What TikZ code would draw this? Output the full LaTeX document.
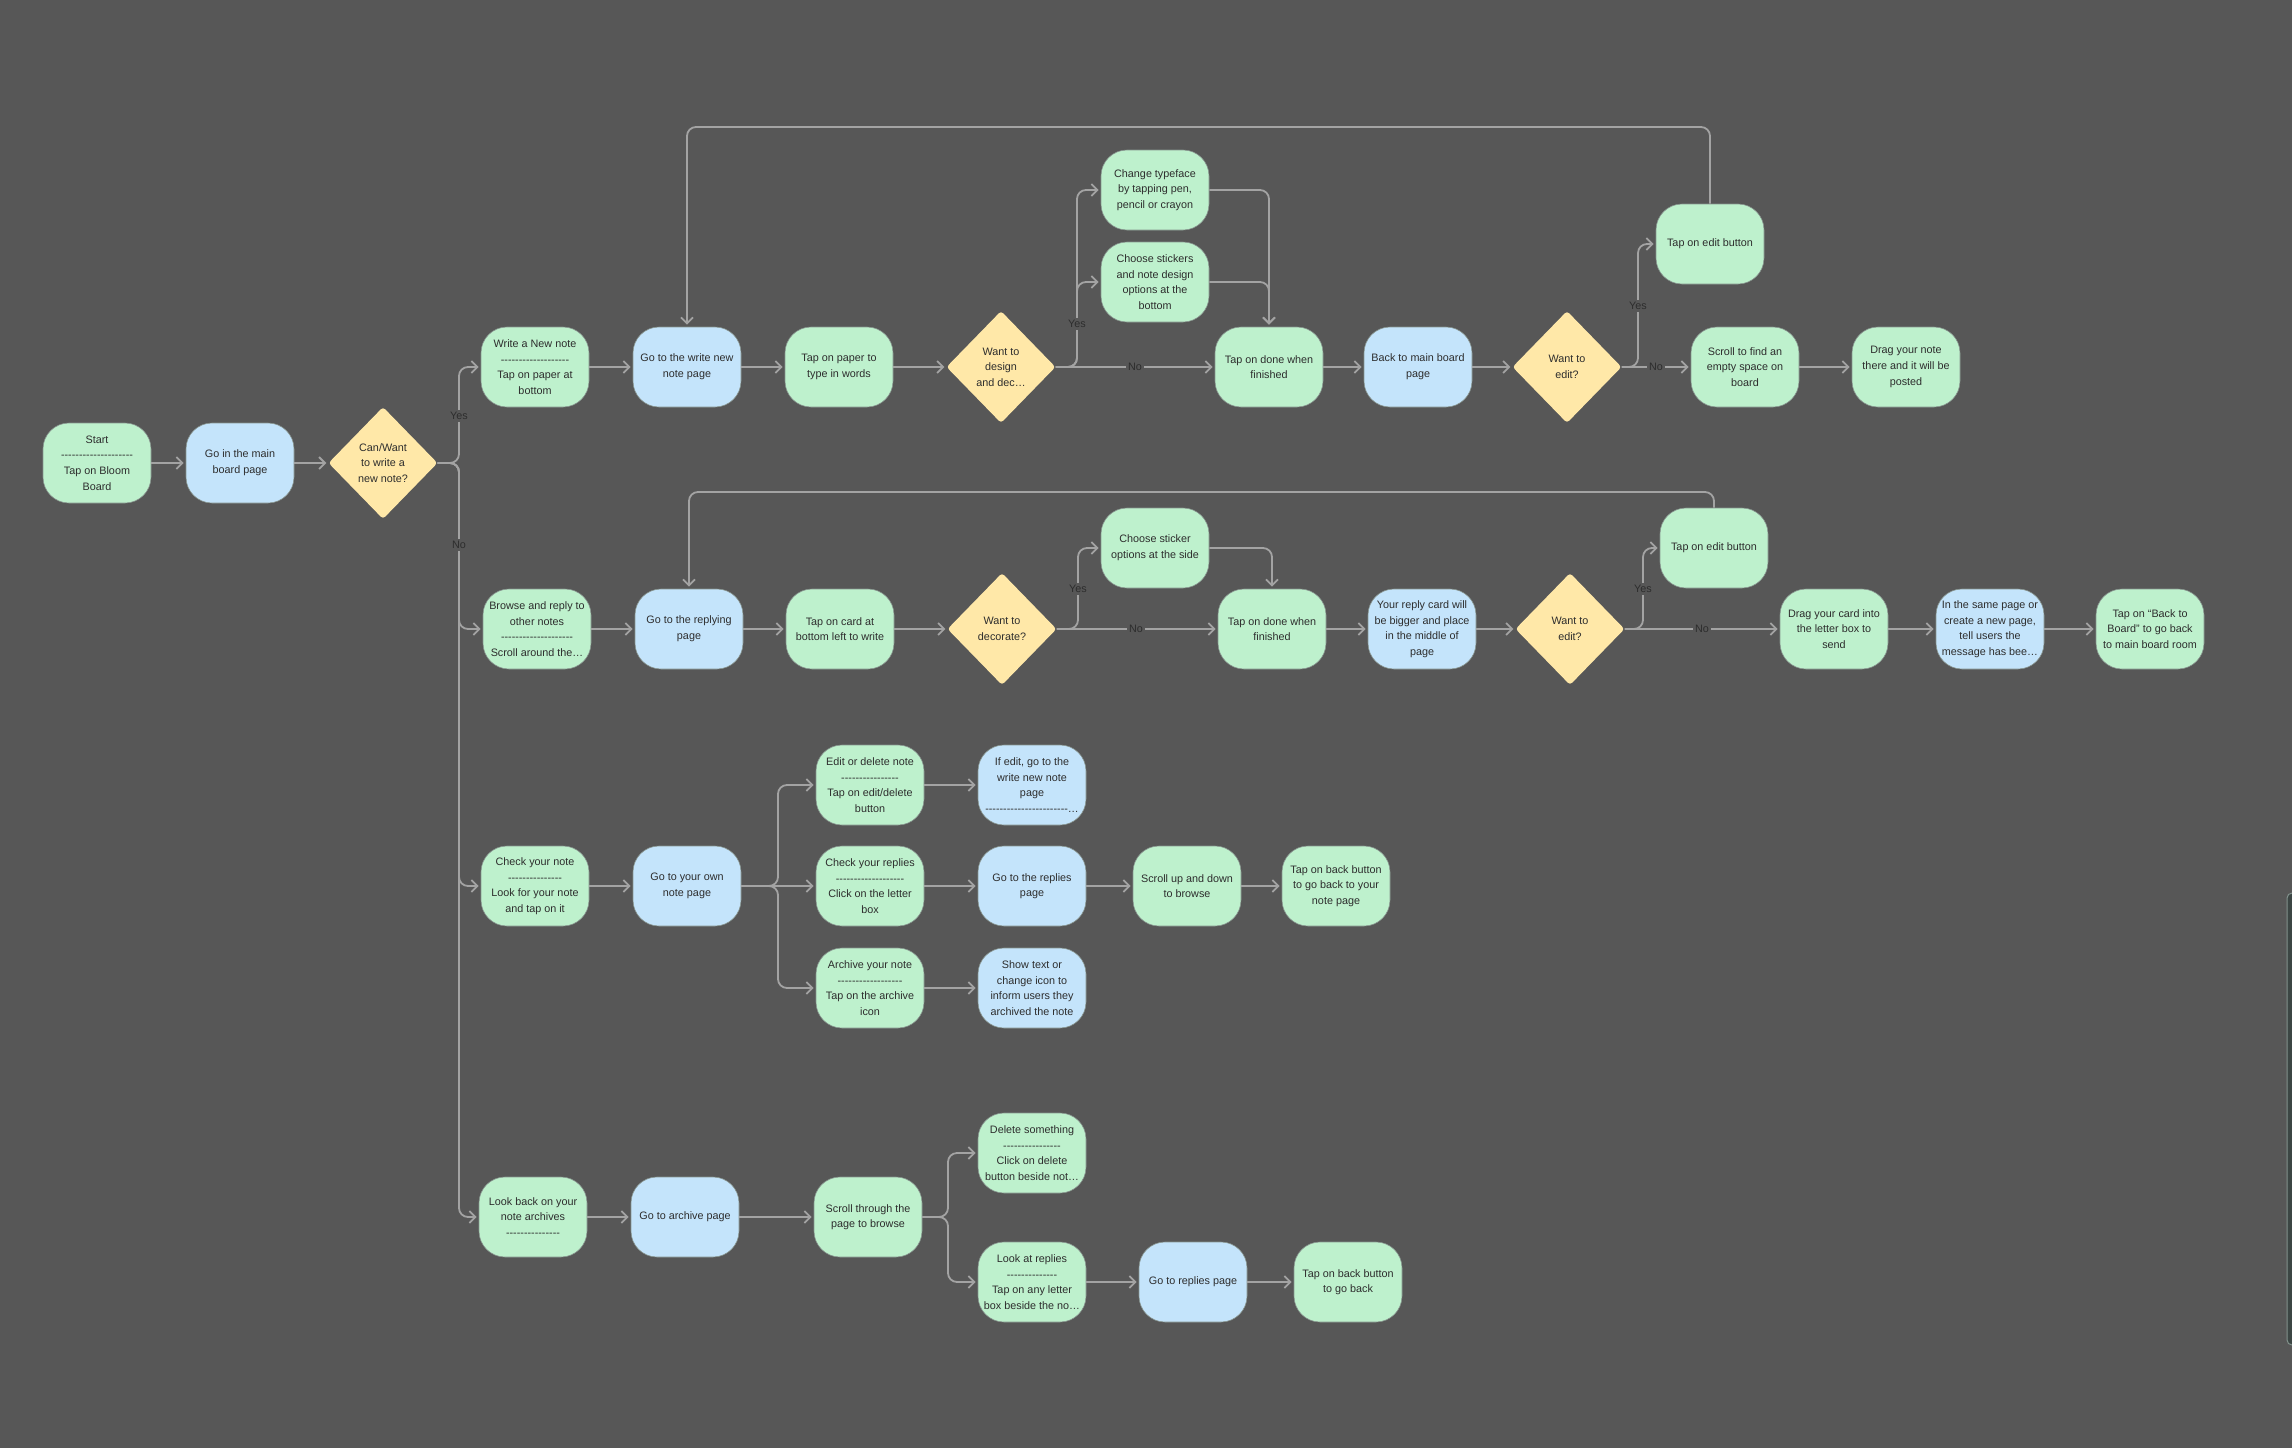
\documentclass[tikz,border=0pt]{standalone}
\usepackage{fontspec}
\setmainfont{Liberation Sans}[Ligatures=TeXOff]
\usetikzlibrary{shapes.geometric,arrows.meta}
\definecolor{bg}{RGB}{87,87,87}
\definecolor{gfill}{RGB}{190,241,205}
\definecolor{bfill}{RGB}{196,228,251}
\definecolor{yfill}{RGB}{255,232,168}
\definecolor{lncol}{RGB}{163,163,163}
\definecolor{txt}{RGB}{45,45,45}
\definecolor{bordcol}{RGB}{135,148,142}
\definecolor{panelfill}{RGB}{60,70,68}
\definecolor{panelline}{RGB}{130,145,140}
\newcommand\fsz{\fontsize{10.8}{15.6}\selectfont}
\newcommand\hy[1]{\foreach \i in {1,...,#1}{-}}
\tikzset{
  box/.style={rectangle, rounded corners=26pt, minimum width=108pt, minimum height=80pt,
    inner sep=0pt, align=center, text=txt, font=\fsz, draw=bordcol, line width=0.6pt},
  gbox/.style={box, fill=gfill},
  bbox/.style={box, fill=bfill},
  dia/.style={diamond, fill=yfill, minimum width=109pt, minimum height=112pt, inner sep=0pt,
    rounded corners=3pt, align=center, text=txt, font=\fsz},
  conn/.style={draw=lncol, line width=1.8pt, rounded corners=9pt,
    -{Straight Barb[length=6pt,width=12pt]}, shorten >=2pt},
  lbl/.style={fill=bg, text=txt, font=\fsz, inner sep=2pt},
}
\begin{document}
\begin{tikzpicture}[x=1pt,y=-1pt]
\fill[bg] (0,0) rectangle (2292,1448);
\useasboundingbox (0,0) rectangle (2292,1448);

% ---------- main row ----------
\node[gbox] (start) at (97,463) {Start\\\hy{20}\\Tap on Bloom\\Board};
\node[bbox] (gomain) at (240,463) {Go in the main\\board page};
\node[dia] (can) at (383,463) {Can/Want\\to write a\\new note?};

% ---------- row A ----------
\node[gbox] (write) at (535,367) {Write a New note\\\hy{19}\\Tap on paper at\\bottom};
\node[bbox] (gowrite) at (687,367) {Go to the write new\\note page};
\node[gbox] (tappaper) at (839,367) {Tap on paper to\\type in words};
\node[dia] (design) at (1001,367) {Want to\\design\\and dec…};
\node[gbox] (typeface) at (1155,190) {Change typeface\\by tapping pen,\\pencil or crayon};
\node[gbox] (stickers) at (1155,282) {Choose stickers\\and note design\\options at the\\bottom};
\node[gbox] (done) at (1269,367) {Tap on done when\\finished};
\node[bbox] (back) at (1418,367) {Back to main board\\page};
\node[dia] (editA) at (1567,367) {Want to\\edit?};
\node[gbox] (tapeditA) at (1710,244) {Tap on edit button};
\node[gbox] (scroll) at (1745,367) {Scroll to find an\\empty space on\\board};
\node[gbox] (drag) at (1906,367) {Drag your note\\there and it will be\\posted};

% ---------- row B ----------
\node[gbox] (browse) at (537,629) {Browse and reply to\\other notes\\\hy{20}\\Scroll around the…};
\node[bbox] (goreply) at (689,629) {Go to the replying\\page};
\node[gbox] (tapcard) at (840,629) {Tap on card at\\bottom left to write};
\node[dia] (decorate) at (1002,629) {Want to\\decorate?};
\node[gbox] (sticker) at (1155,548) {Choose sticker\\options at the side};
\node[gbox] (doneB) at (1272,629) {Tap on done when\\finished};
\node[bbox] (yourreply) at (1422,629) {Your reply card will\\be bigger and place\\in the middle of\\page};
\node[dia] (editB) at (1570,629) {Want to\\edit?};
\node[gbox] (tapeditB) at (1714,548) {Tap on edit button};
\node[gbox] (dragcard) at (1834,629) {Drag your card into\\the letter box to\\send};
\node[bbox] (samepage) at (1990,629) {In the same page or\\create a new page,\\tell users the\\message has bee…};
\node[gbox] (backboard) at (2150,629) {Tap on “Back to\\Board” to go back\\to main board room};

% ---------- row C ----------
\node[gbox] (check) at (535,886) {Check your note\\\hy{15}\\Look for your note\\and tap on it};
\node[bbox] (goown) at (687,886) {Go to your own\\note page};
\node[gbox] (editdel) at (870,785) {Edit or delete note\\\hy{16}\\Tap on edit/delete\\button};
\node[bbox] (ifedit) at (1032,785) {If edit, go to the\\write new note\\page\\\hy{23}…};
\node[gbox] (checkrep) at (870,886) {Check your replies\\\hy{19}\\Click on the letter\\box};
\node[bbox] (gorep) at (1032,886) {Go to the replies\\page};
\node[gbox] (scrollup) at (1187,886) {Scroll up and down\\to browse};
\node[gbox] (tapback) at (1336,886) {Tap on back button\\to go back to your\\note page};
\node[gbox] (archive) at (870,988) {Archive your note\\\hy{18}\\Tap on the archive\\icon};
\node[bbox] (showtext) at (1032,988) {Show text or\\change icon to\\inform users they\\archived the note};

% ---------- row D ----------
\node[gbox] (lookback) at (533,1217) {Look back on your\\note archives\\\hy{15}};
\node[bbox] (goarch) at (685,1217) {Go to archive page};
\node[gbox] (scrollthr) at (868,1217) {Scroll through the\\page to browse};
\node[gbox] (delete) at (1032,1153) {Delete something\\\hy{16}\\Click on delete\\button beside not…};
\node[gbox] (lookrep) at (1032,1282) {Look at replies\\\hy{14}\\Tap on any letter\\box beside the no…};
\node[bbox] (gorepB) at (1193,1282) {Go to replies page};
\node[gbox] (tapbackB) at (1348,1282) {Tap on back button\\to go back};

% ---------- junction coordinates ----------
\coordinate (tr) at (459,463);
\coordinate (jA) at (1077,367);
\coordinate (jE) at (1638,367);
\coordinate (jB) at (1078,629);
\coordinate (jF) at (1643,629);
\coordinate (jC) at (778,886);
\coordinate (jD) at (948,1217);
\coordinate (loopA) at (687,127);
\coordinate (loopB) at (689,492);

% ---------- connectors ----------
\draw[conn] (start) -- (gomain);
\draw[conn] (gomain) -- (can);
\draw[conn] (can.east) -- (tr) |- (write.west);
\draw[conn] (can.east) -- (tr) |- (browse.west);
\draw[conn] (can.east) -- (tr) |- (check.west);
\draw[conn] (can.east) -- (tr) |- (lookback.west);

\draw[conn] (write) -- (gowrite);
\draw[conn] (gowrite) -- (tappaper);
\draw[conn] (tappaper) -- (design);
\draw[conn] (design.east) -- (jA) |- (typeface.west);
\draw[conn] (design.east) -- (jA) |- (stickers.west);
\draw[conn] (design.east) -- (done.west);
\draw[conn] (typeface.east) -| (done.north);
\draw[conn] (stickers.east) -| (done.north);
\draw[conn] (done) -- (back);
\draw[conn] (back) -- (editA);
\draw[conn] (editA.east) -- (jE) |- (tapeditA.west);
\draw[conn] (editA.east) -- (scroll.west);
\draw[conn] (scroll) -- (drag);
\draw[conn] (tapeditA.north) |- (loopA) -- (gowrite.north);

\draw[conn] (browse) -- (goreply);
\draw[conn] (goreply) -- (tapcard);
\draw[conn] (tapcard) -- (decorate);
\draw[conn] (decorate.east) -- (jB) |- (sticker.west);
\draw[conn] (decorate.east) -- (doneB.west);
\draw[conn] (sticker.east) -| (doneB.north);
\draw[conn] (doneB) -- (yourreply);
\draw[conn] (yourreply) -- (editB);
\draw[conn] (editB.east) -- (jF) |- (tapeditB.west);
\draw[conn] (editB.east) -- (dragcard.west);
\draw[conn] (dragcard) -- (samepage);
\draw[conn] (samepage) -- (backboard);
\draw[conn] (tapeditB.north) |- (loopB) -- (goreply.north);

\draw[conn] (check) -- (goown);
\draw[conn] (goown.east) -- (jC) |- (editdel.west);
\draw[conn] (goown.east) -- (checkrep.west);
\draw[conn] (goown.east) -- (jC) |- (archive.west);
\draw[conn] (editdel) -- (ifedit);
\draw[conn] (checkrep) -- (gorep);
\draw[conn] (gorep) -- (scrollup);
\draw[conn] (scrollup) -- (tapback);
\draw[conn] (archive) -- (showtext);

\draw[conn] (lookback) -- (goarch);
\draw[conn] (goarch) -- (scrollthr);
\draw[conn] (scrollthr.east) -- (jD) |- (delete.west);
\draw[conn] (scrollthr.east) -- (jD) |- (lookrep.west);
\draw[conn] (lookrep) -- (gorepB);
\draw[conn] (gorepB) -- (tapbackB);

% ---------- labels ----------
\node[lbl] (yes0) at (459,416) {Yes};
\node[lbl] (no0) at (459,545) {No};
\node[lbl] (yesA) at (1077,324) {Yes};
\node[lbl] (noA) at (1135,367) {No};
\node[lbl] (yesE) at (1638,306) {Yes};
\node[lbl] (noE) at (1656,367) {No};
\node[lbl] (yesB) at (1078,589) {Yes};
\node[lbl] (noB) at (1136,629) {No};
\node[lbl] (yesF) at (1643,589) {Yes};
\node[lbl] (noF) at (1702,629) {No};

% ---------- partial panel at right edge ----------
\draw[draw=panelline, fill=panelfill, line width=1pt, rounded corners=5pt] (2287,893) rectangle (2310,1345);
\end{tikzpicture}
\end{document}
